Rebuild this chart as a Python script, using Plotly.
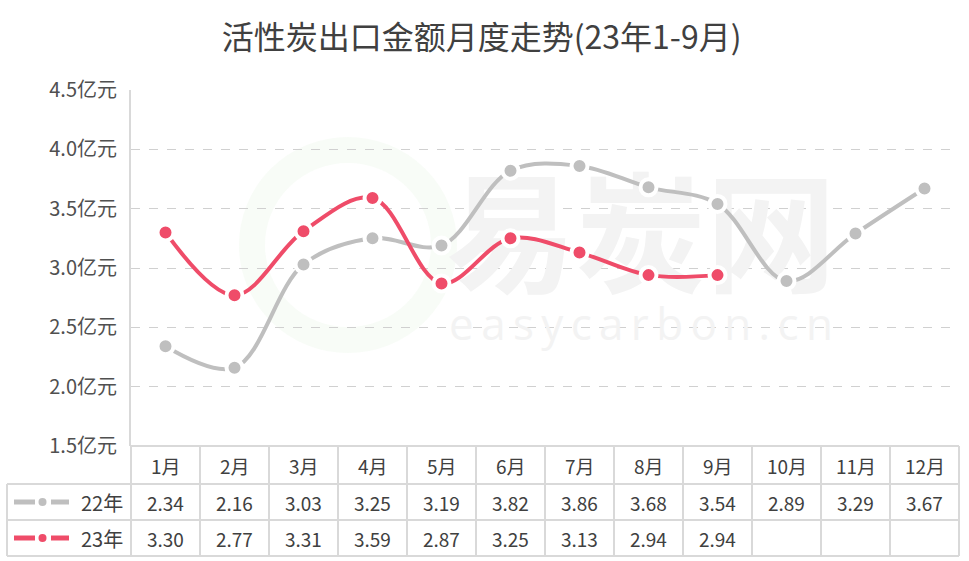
import plotly.graph_objects as go

# ---- data ----
months = ["1月", "2月", "3月", "4月", "5月", "6月", "7月", "8月", "9月", "10月", "11月", "12月"]
series_names = ["22年", "23年"]
export_2022 = [2.34, 2.16, 3.03, 3.25, 3.19, 3.82, 3.86, 3.68, 3.54, 2.89, 3.29, 3.67]
export_2023 = [3.30, 2.77, 3.31, 3.59, 2.87, 3.25, 3.13, 2.94, 2.94]
y_ticks = [1.5, 2.0, 2.5, 3.0, 3.5, 4.0, 4.5]
y_tick_labels = [f"{v:.1f}亿元" for v in y_ticks]

# ---- style ----
W, H = 969, 561
L, R, T, B = 131, 959, 90, 446          # plot area in pixels
GRAY = "#BFBFBF"
RED = "#EF4C69"
TEXT = "#404040"
BORDER = "#D9D9D9"
FONT = "Noto Sans CJK SC"


def px_x(px):
    return (px - L) / (R - L)


def px_y(py):
    return (B - py) / (B - T)


def data_x(px):
    return 0.5 + (px - L) / ((R - L) / 12)


def data_y(py):
    return 4.5 - (py - T) / ((B - T) / 3.0)


fig = go.Figure()

# faint watermark (brand name over site address), drawn first so the series sit on top
watermark = ("<span style='font-size:130px;font-weight:bold;font-family:Noto Sans CJK SC'>易炭网</span>"
             "<br>" + "\u2006".join("easycarbon.cn"))
fig.add_trace(go.Scatter(
    x=[data_x(641)], y=[data_y(300)], mode="text", text=[watermark],
    textfont=dict(family="Open Sans", size=44, color="#F3F3F3"),
    hoverinfo="skip", showlegend=False, cliponaxis=False,
))

x_vals = list(range(1, 13))
for name, vals, color in [(series_names[0], export_2022, GRAY),
                          (series_names[1], export_2023, RED)]:
    xs = x_vals[:len(vals)]
    fig.add_trace(go.Scatter(
        x=xs, y=vals, mode="lines", name=name,
        line=dict(color=color, width=4, shape="spline", smoothing=1.0),
        hoverinfo="skip", showlegend=False,
    ))
    fig.add_trace(go.Scatter(
        x=xs, y=vals, mode="markers", name=name,
        marker=dict(color=color, size=16, line=dict(color="white", width=4)),
        showlegend=False,
    ))

shapes = []
# watermark logo ring
shapes.append(dict(type="circle", xref="paper", yref="paper", layer="below",
                   x0=px_x(252), x1=px_x(444), y0=px_y(340), y1=px_y(150),
                   line=dict(color="rgba(200,230,190,0.13)", width=26)))

line_style = dict(color=BORDER, width=2)
col_w = (R - L) / 12
# horizontal table lines
shapes.append(dict(type="line", xref="paper", yref="paper",
                   x0=px_x(L), x1=px_x(R), y0=px_y(446), y1=px_y(446), line=line_style))
for py in (484, 520, 556):
    shapes.append(dict(type="line", xref="paper", yref="paper",
                       x0=px_x(7), x1=px_x(R), y0=px_y(py), y1=px_y(py), line=line_style))
# vertical table lines
shapes.append(dict(type="line", xref="paper", yref="paper",
                   x0=px_x(7), x1=px_x(7), y0=px_y(484), y1=px_y(556), line=line_style))
for k in range(13):
    xk = L + k * col_w
    shapes.append(dict(type="line", xref="paper", yref="paper",
                       x0=px_x(xk), x1=px_x(xk), y0=px_y(446), y1=px_y(556), line=line_style))

# legend keys inside the table rows
for row_y, color in [(502, GRAY), (538, RED)]:
    for a, b in [(14, 35), (51, 69)]:
        shapes.append(dict(type="line", xref="paper", yref="paper",
                           x0=px_x(a), x1=px_x(b), y0=px_y(row_y), y1=px_y(row_y),
                           line=dict(color=color, width=5)))
    shapes.append(dict(type="circle", xref="paper", yref="paper", fillcolor=color,
                       line=dict(width=0),
                       x0=px_x(38.5), x1=px_x(46.5), y0=px_y(row_y + 4), y1=px_y(row_y - 4)))

annotations = []
tfont = dict(family=FONT, size=19, color=TEXT)
for i, m in enumerate(months):
    annotations.append(dict(x=i + 1, xref="x", y=px_y(465), yref="paper", text=m,
                            xanchor="center", yanchor="middle", showarrow=False, font=tfont))
for row_y, vals in [(502, export_2022), (538, export_2023)]:
    for i, v in enumerate(vals):
        annotations.append(dict(x=i + 1, xref="x", y=px_y(row_y), yref="paper",
                                text=f"{v:.2f}", xanchor="center", yanchor="middle",
                                showarrow=False, font=tfont))
for row_y, name in [(502, series_names[0]), (538, series_names[1])]:
    annotations.append(dict(x=px_x(102), xref="paper", y=px_y(row_y), yref="paper",
                            text=name, xanchor="center", yanchor="middle", showarrow=False,
                            font=dict(family=FONT, size=20, color=TEXT)))

fig.update_layout(
    width=W, height=H, autosize=False,
    margin=dict(l=L, r=W - R, t=T, b=H - B, pad=0),
    paper_bgcolor="white", plot_bgcolor="white",
    title=dict(text="活性炭出口金额月度走势(23年1-9月)", x=0.497, xanchor="center",
               y=1 - 38 / H, yanchor="middle", font=dict(family=FONT, size=32, color=TEXT)),
    xaxis=dict(range=[0.5, 12.5], showgrid=False, showticklabels=False, zeroline=False,
               showline=False, ticks=""),
    yaxis=dict(range=[1.5, 4.5], tickvals=y_ticks, ticktext=y_tick_labels,
               showgrid=True, gridcolor="#D0D0D0", griddash="dash", gridwidth=1,
               zeroline=False, showline=True, linecolor=BORDER, linewidth=2,
               ticks="", ticklabelstandoff=8,
               tickfont=dict(family=FONT, size=20, color="#505050")),
    shapes=shapes, annotations=annotations, showlegend=False,
)

fig.write_html("out.html")
